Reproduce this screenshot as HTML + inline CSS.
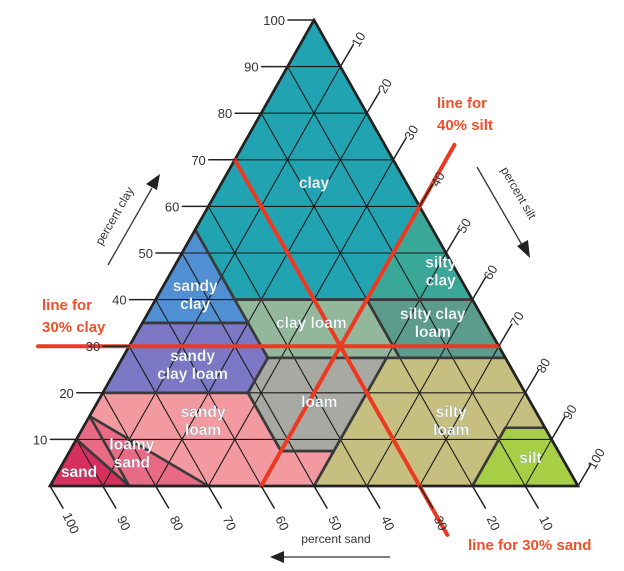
<!DOCTYPE html>
<html><head><meta charset="utf-8"><style>
html,body{margin:0;padding:0;background:#fff;}
svg{display:block;font-family:"Liberation Sans",sans-serif;}
</style></head><body>
<svg id="chart" width="624" height="571" viewBox="0 0 624 571" xmlns="http://www.w3.org/2000/svg">
<g id="fills"></g><g id="grid"></g><g id="bounds"></g><g id="red"></g><g id="ticks"></g><g id="labels"></g>
<g font-weight="bold" font-size="15" fill="#f0502a">
<text x="437" y="108">line for</text>
<text x="437" y="130">40% silt</text>
<text x="42" y="310">line for</text>
<text x="42" y="332">30% clay</text>
<text x="468" y="550">line for 30% sand</text>
</g>
<g font-size="12" fill="#333">
<text transform="translate(118,218) rotate(-60)" text-anchor="middle">percent clay</text>
<line x1="108" y1="265" x2="152" y2="188" stroke="#333" stroke-width="1.3"/>
<polygon points="160,174 146,184 157,190" fill="#222"/>
<text transform="translate(515,195) rotate(60)" text-anchor="middle">percent silt</text>
<line x1="477" y1="167" x2="522" y2="245" stroke="#333" stroke-width="1.3"/>
<polygon points="530,258 517,246 528,240" fill="#222"/>
<text x="336" y="543" text-anchor="middle">percent sand</text>
<line x1="390" y1="557" x2="282" y2="557" stroke="#333" stroke-width="1.3"/>
<polygon points="270,557 284,551 284,563" fill="#222"/>
</g>
</svg>
<script>
const tickValues=[10,20,30,40,50,60,70,80,90,100];
const regionNames=["clay","silty clay","sandy clay","clay loam","silty clay loam","sandy clay loam","loam","silt loam","sandy loam","silt","loamy sand","sand"];
const regionColors=["#22a3b2","#3aa898","#4f8fd2","#93b79a","#5b9c8c","#7c78c6","#a9a9a3","#c6bf80","#f29aa0","#a6cf45","#e96a85","#d8305e"];
// polygons as [sand, silt, clay]
const regionPolys=[
[[45,0,55],[0,0,100],[0,40,60],[20,40,40],[45,15,40]],
[[0,60,40],[0,40,60],[20,40,40]],
[[65,0,35],[45,0,55],[45,20,35]],
[[45,15,40],[20,40,40],[20,52.5,27.5],[45,27.5,27.5]],
[[20,40,40],[0,60,40],[0,72.5,27.5],[20,52.5,27.5]],
[[80,0,20],[65,0,35],[45,20,35],[45,27.5,27.5],[52.5,27.5,20]],
[[52.5,27.5,20],[45,27.5,27.5],[22.5,50,27.5],[42.5,50,7.5],[52.5,40,7.5]],
[[50,50,0],[20,80,0],[7.5,80,12.5],[0,87.5,12.5],[0,72.5,27.5],[22.5,50,27.5],[42.5,50,7.5]],
[[85,0,15],[80,0,20],[52.5,27.5,20],[52.5,40,7.5],[42.5,50,7.5],[50,50,0],[70,30,0],[85,15,0]],
[[20,80,0],[0,100,0],[0,87.5,12.5],[7.5,80,12.5]],
[[85,15,0],[70,30,0],[85,0,15],[90,0,10]],
[[100,0,0],[85,15,0],[90,0,10]]
];
const regionLabelPos=[[17.5,17.5,65],[3,51,46],[52,7,41],[33,32,35],[10,55,35],[60,14,26],[40,42,18],[17,69,14],[64,22,14],[6,88,6],[81,12,7],[93,4,3]];
const regionLabelLines=[["clay"],["silty","clay"],["sandy","clay"],["clay loam"],["silty clay","loam"],["sandy","clay loam"],["loam"],["silty","loam"],["sandy","loam"],["silt"],["loamy","sand"],["sand"]];
const refLines={clay:30,silt:40,sand:30};

const A=[50,486],B=[578,486],C=[314,20];
function P(sand,silt,clay){const t=sand+silt+clay;return [(sand*A[0]+silt*B[0]+clay*C[0])/t,(sand*A[1]+silt*B[1]+clay*C[1])/t];}
const NS="http://www.w3.org/2000/svg";
function mk(tag,parent,attrs){const e=document.createElementNS(NS,tag);for(const k in attrs)e.setAttribute(k,attrs[k]);document.getElementById(parent).appendChild(e);return e;}
function line(parent,p,q,stroke,w){return mk("line",parent,{x1:p[0],y1:p[1],x2:q[0],y2:q[1],stroke:stroke,"stroke-width":w,"stroke-linecap":"round"});}

regionPolys.forEach((poly,i)=>{
  const pts=poly.map(v=>P(v[0],v[1],v[2]).join(",")).join(" ");
  const e=mk("polygon","fills",{points:pts,fill:regionColors[i]});
  
  
  const b=mk("polygon","bounds",{points:pts,fill:"none",stroke:"#3a3a3a","stroke-width":2.6,"stroke-linejoin":"round"});
  
  
});
tickValues.slice(0,9).forEach(v=>{
  let e=line("grid",P(100-v,0,v),P(0,100-v,v),"#1a1a1a",1.1);
  
  e=line("grid",P(100-v,v,0),P(0,v,100-v),"#1a1a1a",1.1);
  
  e=line("grid",P(v,100-v,0),P(v,0,100-v),"#1a1a1a",1.1);
  
});
const tri=mk("polygon","bounds",{points:[A,B,C].map(p=>p.join(",")).join(" "),fill:"none",stroke:"#222","stroke-width":2.6});

{const c=refLines.clay;let p=P(100-c,0,c),q=P(0,100-c,c);
 let e=line("red",[38,p[1]],q,"#ec3a22",4);
 const s=refLines.silt;p=P(100-s,s,0);q=P(0,s,100-s);const dx=q[0]-p[0],dy=q[1]-p[1];
 e=line("red",p,[p[0]+dx*1.22,p[1]+dy*1.22],"#ec3a22",4);
 const sd=refLines.sand;p=P(sd,0,100-sd);q=P(sd,100-sd,0);const ex=q[0]-p[0],ey=q[1]-p[1];
 e=line("red",p,[p[0]+ex*1.15,p[1]+ey*1.15],"#ec3a22",4);}
tickValues.forEach(v=>{
  let p=P(100-v,0,v);
  let e=line("ticks",p,[p[0]-26,p[1]],"#222",1.5);
  let t=mk("text","ticks",{x:p[0]-29,y:p[1]+5,"text-anchor":"end","font-size":13,fill:"#333"});t.textContent=v;
  
  p=P(0,v,100-v);const q=[p[0]+13,p[1]-22];
  e=line("ticks",p,q,"#222",1.5);
  t=mk("text","ticks",{transform:`translate(${q[0]+9},${q[1]-3}) rotate(-60)`,"text-anchor":"middle","font-size":13,fill:"#333"});t.textContent=v;
  
  p=P(v,100-v,0);const r=[p[0]+13,p[1]+22];
  e=line("ticks",p,r,"#222",1.5);
  t=mk("text","ticks",{transform:`translate(${r[0]+4},${r[1]+17}) rotate(65)`,"text-anchor":"middle","font-size":13,fill:"#333"});t.textContent=v;
  
});
regionLabelPos.forEach((v,i)=>{
  const p=P(v[0],v[1],v[2]);const lines=regionLabelLines[i];
  lines.forEach((s,j)=>{
    const t=mk("text","labels",{x:p[0],y:p[1]+j*18-(lines.length-1)*9+5,"text-anchor":"middle","font-size":15.5,"font-weight":"bold",fill:"#fff",stroke:"rgba(90,120,140,0.35)","stroke-width":0.6});
    t.textContent=s;
    
    
  });
});
</script>
</body></html>
